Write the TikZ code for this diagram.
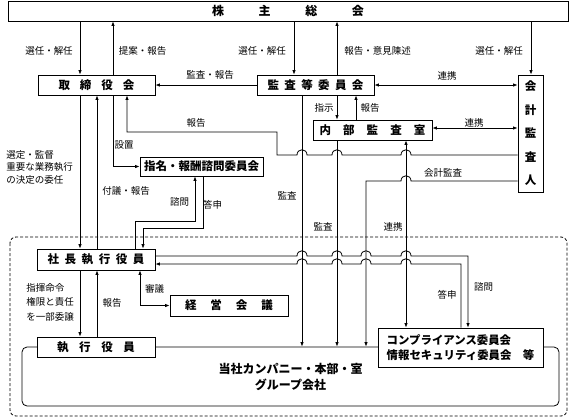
\documentclass[tikz,border=0pt]{standalone}
\usepackage{fontspec}
\setmainfont{Noto Sans CJK JP}
\usetikzlibrary{arrows.meta}
\tikzset{
  box/.style={draw, fill=white, inner sep=0pt, font=\bfseries\fontsize{11.5}{13}\selectfont},
  lab/.style={inner sep=0pt, font=\fontsize{9.5}{12.5}\selectfont},
  arr/.style={-{Latex[length=4.5pt,width=3.5pt]}},
  darr/.style={{Latex[length=4.5pt,width=3.5pt]}-{Latex[length=4.5pt,width=3.5pt]}},
}
\newcommand\hopl[2]{-- (#1+5,#2) .. controls (#1+5,#2-7) and (#1-5,#2-7) .. (#1-5,#2)}
\newcommand\hopr[2]{-- (#1-5,#2) .. controls (#1-5,#2-7) and (#1+5,#2-7) .. (#1+5,#2)}
\newcommand\wide[2]{\makebox[#1pt][s]{#2}}
\begin{document}
\begin{tikzpicture}[x=1pt, y=-1pt, line width=0.8pt]
  \useasboundingbox (0,0) rectangle (571,418);
  \draw[dash pattern=on 3pt off 2pt, rounded corners=6pt] (10,237) rectangle (567,416);

  \node[box, rounded corners=5pt, minimum width=537pt, minimum height=59pt, align=center,
        font=\bfseries\fontsize{12}{16}\selectfont] (tc) at (290.5,376.5) {当社カンパニー・本部・室\\グループ会社};
  \node[box, minimum width=560pt, minimum height=20pt, font=\bfseries\fontsize{12}{14}\selectfont]
        (sh) at (288,11) {\wide{152}{株\hfill 主\hfill 総\hfill 会}};
  \node[box, minimum width=117pt, minimum height=20pt] (tr) at (96.5,85) {\wide{76}{取\hfill 締\hfill 役\hfill 会}};
  \node[box, minimum width=117pt, minimum height=20pt] (kt) at (315.5,85) {\wide{96}{監\hfill 査\hfill 等\hfill 委\hfill 員\hfill 会}};
  \node[box, minimum width=25pt, minimum height=117pt, align=center,
        font=\bfseries\fontsize{11.5}{23.5}\selectfont] (ka) at (530.5,133.5) {会\\計\\監\\査\\人};
  \node[box, minimum width=119pt, minimum height=20pt] (nb) at (372.5,130) {\wide{106}{内\hfill 部\hfill 監\hfill 査\hfill 室}};
  \node[box, minimum width=123pt, minimum height=19pt] (sm) at (201.5,166.5) {指名・報酬諮問委員会};
  \node[box, minimum width=118pt, minimum height=21pt] (sc) at (96,259.5) {\wide{97}{社\hfill 長\hfill 執\hfill 行\hfill 役\hfill 員}};
  \node[box, minimum width=118pt, minimum height=21pt] (kk) at (229,305.5) {\wide{88}{経\hfill 営\hfill 会\hfill 議}};
  \node[box, minimum width=118pt, minimum height=20pt] (sy) at (96,347) {\wide{78}{執\hfill 行\hfill 役\hfill 員}};
  \node[box, minimum width=165pt, minimum height=39pt, align=left,
        font=\bfseries\fontsize{11.4}{15}\selectfont] (cp) at (460.5,347.5) {コンプライアンス委員会\\情報セキュリティ委員会　等};

  \draw[arr] (sh.south -| 80,0) -- (tr.north -| 80,0);
  \draw[arr] (tr.north -| 113,0) -- (sh.south -| 113,0);
  \draw[arr] (sh.south -| 294,0) -- (kt.north -| 294,0);
  \draw[arr] (kt.north -| 337,0) -- (sh.south -| 337,0);
  \draw[arr] (sh.south -| 531,0) -- (ka.north -| 531,0);
  \draw[arr] (kt.west) -- (tr.east);
  \draw[darr] (kt.east) -- (ka.west |- kt.east);
  \draw[arr] (kt.south -| 337,0) -- (nb.north -| 337,0);
  \draw[arr] (nb.north -| 356,0) -- (kt.south -| 356,0);
  \draw[darr] (nb.east |- 0,128) -- (ka.west |- 0,128);
  \draw[arr] (ka.west |- 0,155) \hopl{406}{155} \hopl{337}{155} \hopl{302}{155}
    -- (277,155) -- (277,132) -- (127,132) -- (tr.south -| 127,0);
  \draw[arr] (ka.west |- 0,181) \hopl{406}{181} -- (366,181) -- (tc.north -| 366,0);
  \draw[arr] (kt.south -| 302,0) -- (tc.north -| 302,0);
  \draw[arr] (nb.south -| 337,0) -- (tc.north -| 337,0);
  \draw[darr] (nb.south -| 406,0) -- (cp.north -| 406,0);
  \draw[arr] (tr.south -| 80,0) -- (sc.north -| 80,0);
  \draw[arr] (sc.north -| 97,0) -- (tr.south -| 97,0);
  \draw[arr] (tr.south -| 113,0) |- (sm.west);
  \draw[arr] (sc.north -| 135,0) -- (135,221) -| (sm.south -| 195,0);
  \draw[arr] (sm.south -| 203,0) -- (203,228) -| (sc.north -| 143,0);
  \draw[arr] (sc.east |- 0,256) \hopr{302}{256} \hopr{337}{256} \hopr{366}{256} \hopr{406}{256}
    -- (468,256) -- (cp.north -| 468,0);
  \draw[arr] (cp.north -| 461,0) -- (461,264) \hopl{406}{264} \hopl{366}{264} \hopl{337}{264} \hopl{302}{264}
    -- (sc.east |- 0,264);
  \draw[darr] (sc.south -| 140,0) |- (kk.west);
  \draw[arr] (sc.south -| 80,0) -- (sy.north -| 80,0);
  \draw[arr] (sy.north -| 97,0) -- (sc.south -| 97,0);

  \node[lab] (a1) at (49,51) {選任・解任};
  \node[lab] (a2) at (142.5,51) {提案・報告};
  \node[lab] (a3) at (262,51) {選任・解任};
  \node[lab] (a4) at (377.5,51) {報告・意見陳述};
  \node[lab] (a5) at (499,51) {選任・解任};
  \node[lab] (a6) at (210,75) {監査・報告};
  \node[lab] (a7) at (447,76) {連携};
  \node[lab] (a8) at (324,108) {指示};
  \node[lab] (a9) at (370,108) {報告};
  \node[lab] (a10) at (474,123) {連携};
  \node[lab] (a11) at (196,123) {報告};
  \node[lab] (a12) at (124,145) {設置};
  \node[lab, align=left, anchor=west] (a13) at (6,167) {選定・監督\\重要な業務執行\\の決定の委任};
  \node[lab] (a14) at (126,191) {付議・報告};
  \node[lab] (a15) at (179.5,202) {諮問};
  \node[lab] (a16) at (212.5,205) {答申};
  \node[lab] (a17) at (287,196) {監査};
  \node[lab] (a18) at (323,227) {監査};
  \node[lab] (a19) at (443,173) {会計監査};
  \node[lab] (a20) at (393,227) {連携};
  \node[lab, align=left, anchor=west, font=\fontsize{9.5}{14.5}\selectfont] (a21) at (26,302) {指揮命令\\権限と責任\\を一部委譲};
  \node[lab] (a22) at (112,303) {報告};
  \node[lab] (a23) at (154.5,289) {審議};
  \node[lab] (a24) at (447,295) {答申};
  \node[lab] (a25) at (483.5,287) {諮問};
\end{tikzpicture}
\end{document}
